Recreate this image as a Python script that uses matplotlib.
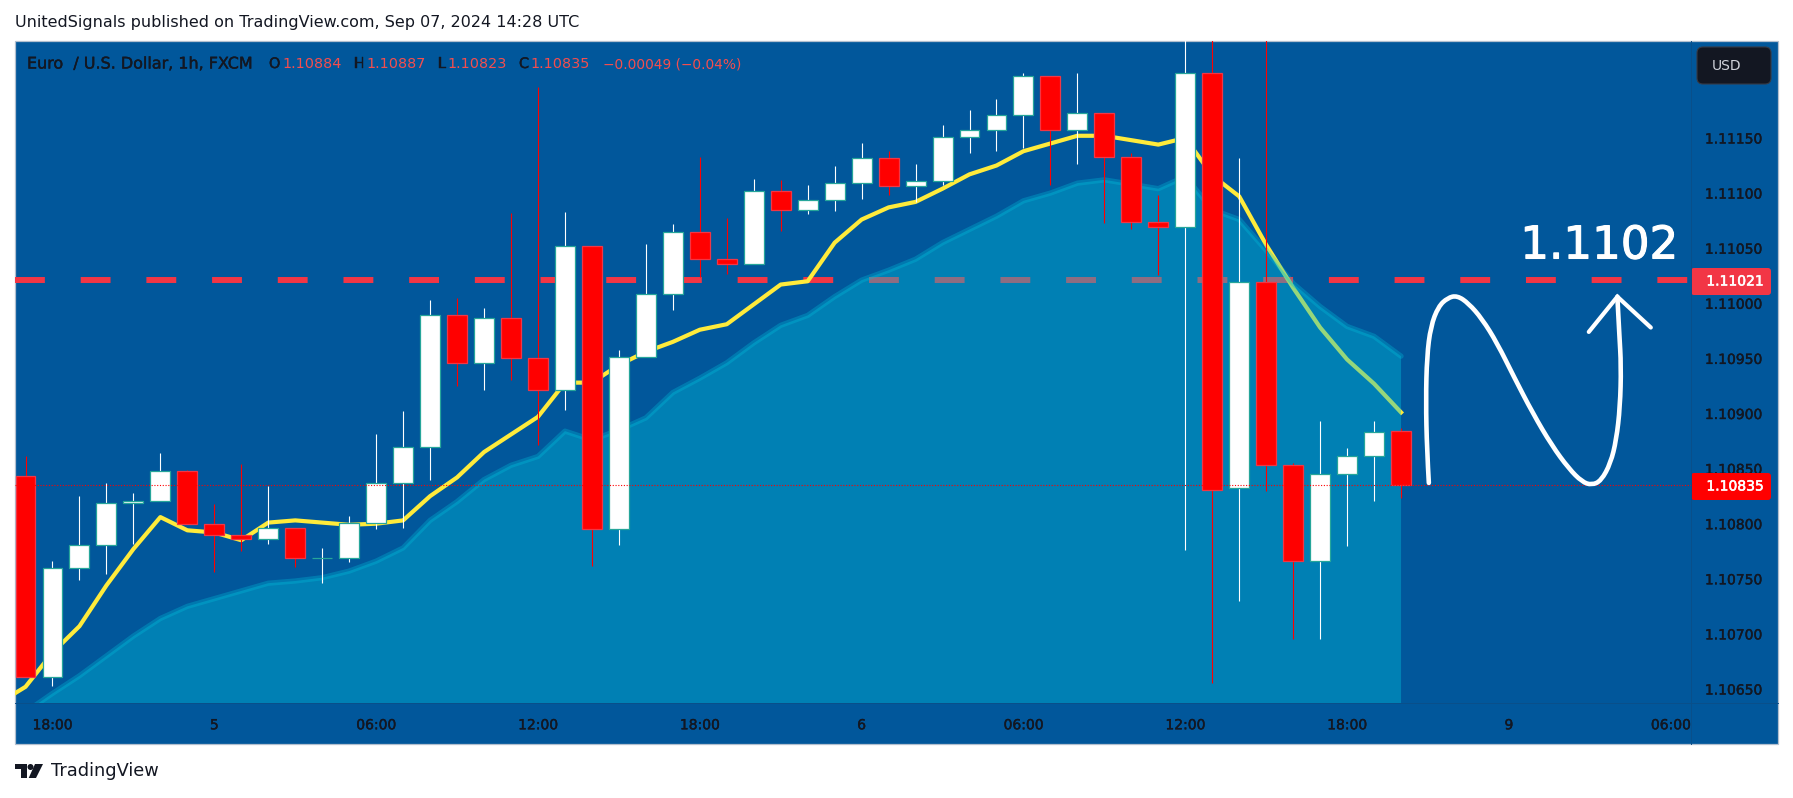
# EURUSD 1h candles with two moving averages, TradingView style
import matplotlib
matplotlib.use('Agg')
import matplotlib.pyplot as plt
import matplotlib.patheffects as pe
from matplotlib.patches import FancyBboxPatch, Rectangle, Polygon, Circle, PathPatch
from matplotlib.path import Path

# Bars (index 0 is the 17:00 candle)
Opens = [1.10843, 1.10661, 1.10760, 1.10781, 1.10819, 1.10821, 1.10848, 1.10800, 1.10790, 1.10786,
         1.10796, 1.10769, 1.10769, 1.10801, 1.10837, 1.10870, 1.10989, 1.10946, 1.10987, 1.10950,
         1.10921, 1.11052, 1.10795, 1.10951, 1.11008, 1.11065, 1.11040, 1.11036, 1.11102, 1.11085,
         1.11094, 1.11109, 1.11132, 1.11106, 1.11111, 1.11151, 1.11157, 1.11171, 1.11206, 1.11157,
         1.11173, 1.11133, 1.11074, 1.11069, 1.11209, 1.10832, 1.11019, 1.10853, 1.10766, 1.10845,
         1.10861, 1.10884]
Closes = [1.10661, 1.10760, 1.10781, 1.10819, 1.10821, 1.10848, 1.10800, 1.10790, 1.10786, 1.10796,
          1.10769, 1.10769, 1.10801, 1.10837, 1.10870, 1.10989, 1.10946, 1.10987, 1.10950, 1.10921,
          1.11052, 1.10795, 1.10951, 1.11008, 1.11065, 1.11040, 1.11036, 1.11102, 1.11085, 1.11094,
          1.11109, 1.11132, 1.11106, 1.11111, 1.11151, 1.11157, 1.11171, 1.11206, 1.11157, 1.11173,
          1.11133, 1.11074, 1.11069, 1.11209, 1.10831, 1.11019, 1.10853, 1.10766, 1.10845, 1.10861,
          1.10883, 1.10835]
Highs = [1.10861, 1.10766, 1.10825, 1.10837, 1.10828, 1.10864, 1.10849, 1.10818, 1.10854, 1.10834,
         1.10796, 1.10778, 1.10807, 1.10881, 1.10902, 1.11003, 1.11005, 1.10996, 1.11082, 1.11196,
         1.11083, 1.11052, 1.10958, 1.11054, 1.11072, 1.11133, 1.11077, 1.11113, 1.11112, 1.11107,
         1.11125, 1.11145, 1.11138, 1.11126, 1.11162, 1.11175, 1.11185, 1.11209, 1.11206, 1.11209,
         1.11173, 1.11136, 1.11098, 1.11250, 1.11250, 1.11132, 1.11250, 1.10855, 1.10893, 1.10869,
         1.10893, 1.10887]
Lows = [1.10661, 1.10653, 1.10749, 1.10754, 1.10782, 1.10821, 1.10800, 1.10756, 1.10775, 1.10782,
        1.10761, 1.10746, 1.10765, 1.10795, 1.10796, 1.10840, 1.10925, 1.10921, 1.10930, 1.10871,
        1.10903, 1.10762, 1.10781, 1.10951, 1.10994, 1.11024, 1.11027, 1.11036, 1.11066, 1.11081,
        1.11084, 1.11095, 1.11098, 1.11092, 1.11107, 1.11136, 1.11138, 1.11141, 1.11107, 1.11126,
        1.11073, 1.11067, 1.11026, 1.10776, 1.10655, 1.10730, 1.10830, 1.10695, 1.10695, 1.10780,
        1.10821, 1.10823]

# Fast average (yellow), first value sits one bar left of the chart
FastX = list(range(-1, 52))
Fast = [1.10637, 1.10652, 1.10683, 1.10707, 1.10744, 1.10777, 1.10806, 1.10794, 1.10792, 1.10785,
        1.10801, 1.10803, 1.10801, 1.10799, 1.10800, 1.10803, 1.10825, 1.10842, 1.10865, 1.10881,
        1.10897, 1.10928, 1.10928, 1.10944, 1.10956, 1.10965, 1.10976, 1.10981, 1.10999, 1.11017,
        1.11020, 1.11055, 1.11076, 1.11087, 1.11092, 1.11104, 1.11117, 1.11125, 1.11138, 1.11145,
        1.11152, 1.11152, 1.11148, 1.11144, 1.11150, 1.11116, 1.11097, 1.11053, 1.11014, 1.10978,
        1.10949, 1.10927, 1.10901]

# Slow average (area)
SlowX = list(range(0, 52))
Slow = [1.10629, 1.10646, 1.10662, 1.10680, 1.10698, 1.10714, 1.10725, 1.10732, 1.10739, 1.10746,
        1.10748, 1.10751, 1.10757, 1.10766, 1.10778, 1.10803, 1.10820, 1.10840, 1.10853, 1.10861,
        1.10884, 1.10876, 1.10885, 1.10896, 1.10919, 1.10932, 1.10946, 1.10964, 1.10980, 1.10989,
        1.11006, 1.11021, 1.11030, 1.11040, 1.11055, 1.11067, 1.11079, 1.11093, 1.11100, 1.11109,
        1.11112, 1.11108, 1.11104, 1.11115, 1.11085, 1.11076, 1.11048, 1.11018, 1.10997, 1.10979,
        1.10970, 1.10952]

# Hand drawn path and arrow head, in bar index / price
DrawX = [52.03, 51.96, 51.92, 51.96, 52.10, 52.38, 52.73, 53.08, 53.50, 54.00, 54.56, 55.19,
         55.89, 56.59, 57.22, 57.71, 58.07, 58.42, 58.77, 58.98, 59.12, 59.16, 59.09, 59.02]
DrawY = [1.10837, 1.10867, 1.10912, 1.10952, 1.10979, 1.10997, 1.11005, 1.11007, 1.11000, 1.10986,
         1.10964, 1.10933, 1.10900, 1.10871, 1.10850, 1.10838, 1.10835, 1.10839, 1.10855, 1.10876,
         1.10906, 1.10943, 1.10973, 1.11006]
ArrowX = [57.96, 59.02, 60.26]
ArrowY = [1.10974, 1.11006, 1.10978]

TargetPrice = 1.11021
LastPrice = 1.10835

PriceTicks = [1.10650, 1.10700, 1.10750, 1.10800, 1.10850, 1.10900, 1.10950,
              1.11000, 1.11050, 1.11100, 1.11150]
TimeTicks = [1, 7, 13, 19, 25, 31, 37, 43, 49, 55, 61]
TimeLabels = ['18:00', '5', '06:00', '12:00', '18:00', '6', '06:00', '12:00', '18:00', '9', '06:00']

# Layout in pixels
W, H = 1793, 798
Left, Right, Top, Bottom = 15, 1691, 41, 703
Background = '#01579B'
Ink = '#131722'
Red = '#F23645'
LegendRed = '#F44E4E'
AreaColor = '#00BCD9'
Separator = '#0A4F8A'

plt.rcParams['font.family'] = 'DejaVu Sans'
fig = plt.figure(figsize=(W / 100, H / 100), dpi=100, facecolor='white')

fig.add_artist(Rectangle((15 / W, 1 - 744 / H), 1763 / W, 703 / H, transform=fig.transFigure,
                         facecolor=Background, edgecolor='#B2BFCF', linewidth=0.9, zorder=-1))

ax = fig.add_axes([Left / W, 1 - Bottom / H, (Right - Left) / W, (Bottom - Top) / H])
ax.set_facecolor('none')
ax.set_xlim(-0.39, 61.75)
ax.set_ylim(1.106373, 1.11238)
for side in ['top', 'left', 'bottom', 'right']:
    ax.spines[side].set_visible(False)

ax.yaxis.tick_right()
ax.set_yticks(PriceTicks, ['%.5f' % p for p in PriceTicks])
ax.set_xticks(TimeTicks, TimeLabels)
ax.tick_params(axis='y', length=0, pad=10, labelsize=10, labelcolor=Ink)
ax.tick_params(axis='x', length=0, pad=11, labelsize=10, labelcolor=Ink)

# Thin stroke makes small text as heavy as the screenshot's
Heavy = [pe.withStroke(linewidth=0.3, foreground=Ink)]
for label in ax.get_xticklabels() + ax.get_yticklabels():
    label.set_path_effects(Heavy)

# Dashes and the fast line sit under the translucent area
ax.plot([-0.39, 61.75], [TargetPrice, TargetPrice], color=Red, linewidth=4.3,
        dashes=(5, 6), dash_capstyle='butt', zorder=1)
ax.plot(FastX, Fast, color='#FFEB3B', linewidth=3.0, solid_joinstyle='round', zorder=2)
ax.fill_between(SlowX, Slow, 1.10, color=AreaColor, alpha=0.41, linewidth=0, zorder=3)
ax.plot(SlowX, Slow, color=AreaColor, alpha=0.33, linewidth=3.8, solid_capstyle='round', zorder=3)

# Candles
BodyWidth = 0.74
for i in range(len(Opens)):
    Up = Closes[i] >= Opens[i]
    ax.vlines(i, Lows[i], Highs[i], color='white' if Up else '#FF0000', linewidth=0.8, zorder=4)
    ax.bar(i, abs(Closes[i] - Opens[i]), bottom=min(Opens[i], Closes[i]), width=BodyWidth,
           color='white' if Up else '#FF0000', edgecolor='#26A69A' if Up else Red,
           linewidth=0.9, zorder=5)

ax.plot([-0.39, 61.75], [LastPrice, LastPrice], color='#FF0000', linewidth=0.8,
        dashes=(1, 1.5), zorder=6)

# Hand drawing, smoothed with quadratic segments through the midpoints
Verts = [(DrawX[0], DrawY[0])]
Codes = [Path.MOVETO]
for i in range(1, len(DrawX) - 1):
    Verts.append((DrawX[i], DrawY[i]))
    Verts.append(((DrawX[i] + DrawX[i + 1]) / 2, (DrawY[i] + DrawY[i + 1]) / 2))
    Codes += [Path.CURVE3, Path.CURVE3]
Verts.append((DrawX[-1], DrawY[-1]))
Codes.append(Path.LINETO)
ax.add_patch(PathPatch(Path(Verts, Codes), facecolor='none', edgecolor='white', linewidth=3.3,
                       capstyle='round', joinstyle='round', zorder=7))
ax.plot(ArrowX, ArrowY, color='white', linewidth=3.0, solid_capstyle='round', solid_joinstyle='miter', zorder=7)
ax.text(58.35, 1.11052, '1.1102', color='white', fontsize=32.5, ha='center', va='center', zorder=7,
        path_effects=[pe.withStroke(linewidth=0.8, foreground='white')])

# Everything outside the price pane goes on a pixel overlay
top = fig.add_axes([0, 0, 1, 1], zorder=5)
top.set_xlim(0, W)
top.set_ylim(H, 0)
top.axis('off')

top.plot([Right, Right], [41, 744], color=Separator, linewidth=0.7)
top.plot([15, 1778], [Bottom, Bottom], color=Separator, linewidth=0.7)

top.add_patch(FancyBboxPatch((1691, 268), 80, 27, boxstyle='round,pad=0,rounding_size=3',
                             facecolor=Red, edgecolor='none'))
top.add_patch(FancyBboxPatch((1691, 473), 80, 27, boxstyle='round,pad=0,rounding_size=3',
                             facecolor='#FF0000', edgecolor='none'))
HeavyWhite = [pe.withStroke(linewidth=0.4, foreground='white')]
top.text(1735, 281.5, '%.5f' % TargetPrice, color='white', fontsize=10, ha='center', va='center',
         path_effects=HeavyWhite)
top.text(1735, 486.5, '%.5f' % LastPrice, color='white', fontsize=10, ha='center', va='center',
         path_effects=HeavyWhite)
top.add_patch(FancyBboxPatch((1697, 47), 74, 37, boxstyle='round,pad=0,rounding_size=6',
                             facecolor=Ink, edgecolor='#363A45', linewidth=0.8))
top.text(1712, 65.5, 'USD', color='#D1D4DC', fontsize=10, ha='left', va='center')

top.text(15, 23, 'UnitedSignals published on TradingView.com, Sep 07, 2024 14:28 UTC', color=Ink,
         fontsize=11.55, ha='left', va='center')

top.text(27, 64, 'Euro  / U.S. Dollar, 1h, FXCM', color=Ink, fontsize=11.5, ha='left', va='center',
         path_effects=Heavy)
for x, s in [(269, 'O'), (354, 'H'), (438, 'L'), (519, 'C')]:
    top.text(x, 64, s, color=Ink, fontsize=10.4, ha='left', va='center', path_effects=Heavy)
for x, s in [(282, '1.10884'), (366, '1.10887'), (447, '1.10823'), (530, '1.10835'),
             (603, '\u22120.00049 (\u22120.04%)')]:
    top.text(x, 64, s, color=LegendRed, fontsize=9.9 if s[0] == '\u2212' else 10.4, ha='left', va='center')

# Logo
top.add_patch(Polygon([(15, 764), (27, 764), (27, 778), (20.5, 778), (20.5, 769), (15, 769)], facecolor=Ink, edgecolor='none'))
top.add_patch(Circle((30.5, 767), 3, facecolor=Ink, edgecolor='none'))
top.add_patch(Polygon([(35, 764), (43, 764), (36, 778), (28.7, 778)], facecolor=Ink, edgecolor='none'))
top.text(51, 771.5, 'TradingView', color=Ink, fontsize=12.8, ha='left', va='center')

fig.savefig('out.png', dpi=100)
